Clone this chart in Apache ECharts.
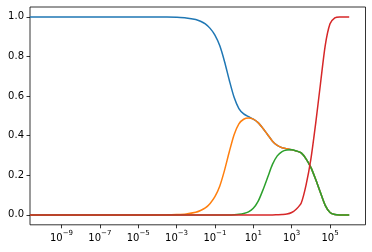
<!DOCTYPE html>
<html>
<head>
<meta charset="utf-8">
<script src="https://cdn.jsdelivr.net/npm/echarts@6/dist/echarts.min.js"></script>
<style>
html,body{margin:0;padding:0;background:#fff;}
#c{width:372px;height:252px;}
</style>
</head>
<body>
<div id="c"></div>
<script>
// x positions as log10 values
const xLog = [-10.64, -5, -3.5, -3, -2.5, -2, -1.75, -1.5, -1.25, -1, -0.75, -0.5, -0.25, 0, 0.25, 0.5, 0.75, 1, 1.25, 1.5, 1.75, 2, 2.25, 2.5, 2.75, 3, 3.25, 3.5, 3.75, 4, 4.25, 4.5, 4.75, 5, 5.25, 5.5, 6];
const blue = [1.0, 1.0, 0.9995, 0.998, 0.995, 0.987, 0.978, 0.965, 0.942, 0.908, 0.855, 0.775, 0.68, 0.594, 0.537, 0.51, 0.496, 0.4835, 0.466, 0.4375, 0.405, 0.3725, 0.351, 0.339, 0.334, 0.329, 0.323, 0.313, 0.283, 0.24, 0.18, 0.113, 0.048, 0.012, 0.002, 0, 0];
const orange = [0, 0, 0.0005, 0.002, 0.005, 0.013, 0.022, 0.035, 0.058, 0.092, 0.145, 0.225, 0.319, 0.405, 0.46, 0.483, 0.489, 0.4835, 0.466, 0.4375, 0.405, 0.3725, 0.351, 0.339, 0.334, 0.329, 0.323, 0.313, 0.283, 0.24, 0.18, 0.113, 0.048, 0.012, 0.002, 0, 0];
const green = [0, 0, 0, 0, 0, 0, 0, 0, 0, 0, 0, 0, 0, 0.001, 0.003, 0.007, 0.015, 0.033, 0.068, 0.125, 0.19, 0.255, 0.298, 0.32, 0.328, 0.329, 0.323, 0.313, 0.283, 0.24, 0.18, 0.113, 0.048, 0.012, 0.002, 0, 0];
const red = [0, 0, 0, 0, 0, 0, 0, 0, 0, 0, 0, 0, 0, 0, 0, 0, 0, 0, 0, 0, 0, 0, 0.001, 0.002, 0.004, 0.012, 0.03, 0.06, 0.15, 0.28, 0.46, 0.66, 0.855, 0.965, 0.995, 1.0, 1.0];
const xTickExps = [-9, -7, -5, -3, -1, 1, 3, 5];
const yTicks = [0, 0.2, 0.4, 0.6, 0.8, 1.0];

const colors = ['#1f77b4', '#ff7f0e', '#2ca02c', '#d62728'];
const seriesData = [blue, orange, green, red];

const chart = echarts.init(document.getElementById('c'), null, {renderer: 'canvas'});
const font = 'DejaVu Sans';
chart.setOption({
  animation: false,
  backgroundColor: '#fff',
  grid: {left: 30, right: 6.5, top: 7, bottom: 27.2, show: true, borderColor: '#000', borderWidth: 0.8, containLabel: false, outerBoundsMode: 'none'},
  xAxis: {
    type: 'value', min: -10.64, max: 6.85,
    axisLine: {show: false, onZero: false},
    splitLine: {show: false},
    axisTick: {show: true, customValues: xTickExps, length: 3.5, inside: false, lineStyle: {color: '#000', width: 0.8}},
    axisLabel: {
      customValues: xTickExps, margin: 5,
      formatter: v => '{b|10}{s|' + (v < 0 ? '\u2212' + (-v) : v) + '}',
      rich: {
        b: {fontFamily: font, fontSize: 10, color: '#000', verticalAlign: 'bottom', lineHeight: 14},
        s: {fontFamily: font, fontSize: 7, color: '#000', verticalAlign: 'top', padding: [0, 0, 6, 0], lineHeight: 14}
      }
    }
  },
  yAxis: {
    type: 'value', min: -0.05, max: 1.05,
    axisLine: {show: false, onZero: false},
    splitLine: {show: false},
    axisTick: {show: true, customValues: yTicks, length: 3.5, lineStyle: {color: '#000', width: 0.8}},
    axisLabel: {customValues: yTicks, margin: 6, fontFamily: font, fontSize: 10, color: '#000', formatter: v => v.toFixed(1)}
  },
  series: seriesData.map((d, i) => ({
    type: 'line',
    data: xLog.map((x, j) => [x, d[j]]),
    showSymbol: false,
    smooth: 0.25,
    lineStyle: {color: colors[i], width: 1.5},
    itemStyle: {color: colors[i]},
    clip: true
  }))
});
</script>
</body>
</html>
